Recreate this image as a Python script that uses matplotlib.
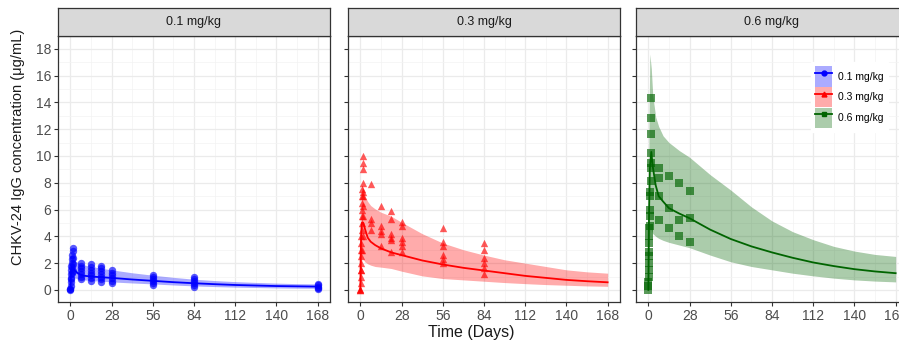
import matplotlib
matplotlib.use("Agg")
import matplotlib.pyplot as plt
from matplotlib.patches import Patch
from matplotlib.lines import Line2D
from matplotlib.legend_handler import HandlerTuple
import numpy as np

plt.rcParams['font.family'] = ['Liberation Sans', 'DejaVu Sans']

doses = ["0.1 mg/kg", "0.3 mg/kg", "0.6 mg/kg"]
line_colors = ["#0000FF", "#FF0000", "#006400"]
markers = ["o", "^", "s"]

# simulated median and 90% interval (days, ug/mL)
sim_t = [0, 0.25, 0.5, 1, 2, 3, 5, 7, 10, 14, 21, 28, 42, 56, 70, 84, 98, 112, 126, 140, 154, 168]

med_01 = [0, 0.9, 1.4, 1.7, 1.6, 1.45, 1.25, 1.12, 1.05, 1.0, 0.95, 0.9, 0.78, 0.68, 0.58, 0.5, 0.43, 0.37, 0.33, 0.29, 0.27, 0.25]
lo_01 = [0, 0.5, 0.8, 1.0, 0.95, 0.9, 0.82, 0.78, 0.74, 0.7, 0.65, 0.6, 0.52, 0.45, 0.37, 0.3, 0.25, 0.21, 0.18, 0.15, 0.13, 0.12]
hi_01 = [0, 1.4, 2.0, 2.4, 2.35, 2.2, 2.05, 1.95, 1.85, 1.75, 1.62, 1.5, 1.28, 1.1, 0.94, 0.8, 0.7, 0.62, 0.56, 0.51, 0.47, 0.45]

med_03 = [0, 2.5, 4.0, 5.0, 5.0, 4.6, 3.9, 3.6, 3.35, 3.1, 2.8, 2.6, 2.2, 1.9, 1.65, 1.45, 1.25, 1.05, 0.9, 0.75, 0.65, 0.57]
lo_03 = [0, 1.0, 1.8, 2.4, 2.3, 2.1, 1.95, 1.85, 1.75, 1.7, 1.6, 1.4, 1.05, 0.85, 0.75, 0.65, 0.55, 0.47, 0.4, 0.35, 0.3, 0.27]
hi_03 = [0, 4.5, 6.5, 7.8, 7.6, 7.0, 6.6, 6.3, 6.05, 5.8, 5.5, 5.05, 4.2, 3.5, 3.0, 2.6, 2.25, 2.0, 1.75, 1.5, 1.35, 1.25]

med_06 = [0, 3.5, 6.0, 9.0, 10.3, 9.2, 7.8, 7.0, 6.6, 6.1, 5.7, 5.35, 4.5, 3.8, 3.25, 2.8, 2.4, 2.05, 1.78, 1.55, 1.38, 1.25]
lo_06 = [0, 1.5, 3.0, 4.5, 4.5, 4.2, 4.0, 3.85, 3.7, 3.55, 3.35, 3.15, 2.6, 2.1, 1.75, 1.5, 1.25, 1.05, 0.88, 0.75, 0.66, 0.6]
hi_06 = [0, 8.0, 13.0, 17.6, 16.5, 14.5, 12.9, 12.2, 11.5, 11.0, 10.4, 9.9, 8.6, 7.45, 6.2, 5.15, 4.35, 3.75, 3.25, 2.9, 2.65, 2.5]

# observed concentrations
obs_t_01 = [0, 0, 0, 0.17, 0.17, 0.17, 0.5, 0.5, 0.5, 0.5, 1, 1, 1, 1, 1, 2, 2, 2, 2, 2,
            7, 7, 7, 7, 7, 7, 7, 14, 14, 14, 14, 14, 14, 14, 21, 21, 21, 21, 21, 21, 21,
            28, 28, 28, 28, 28, 28, 56, 56, 56, 56, 56, 56, 84, 84, 84, 84, 84, 84,
            168, 168, 168, 168, 168]
obs_c_01 = [0, 0.05, 0.1, 0.3, 0.6, 0.9, 0.8, 1.2, 1.5, 1.8, 1.3, 1.7, 2.0, 2.3, 2.6, 1.4, 1.9, 2.4, 3.1, 2.9,
            0.8, 1.0, 1.2, 1.4, 1.6, 1.8, 2.0, 0.7, 0.9, 1.1, 1.3, 1.5, 1.7, 1.9, 0.6, 0.8, 1.0, 1.2, 1.4, 1.6, 1.8,
            0.5, 0.7, 0.9, 1.1, 1.3, 1.5, 0.4, 0.55, 0.7, 0.85, 1.0, 1.15, 0.2, 0.35, 0.5, 0.65, 0.8, 0.95,
            0.05, 0.15, 0.25, 0.35, 0.45]

obs_t_03 = [0, 0, 0, 0.17, 0.17, 0.17, 0.17, 0.5, 0.5, 0.5, 0.5, 0.5,
            1, 1, 1, 1, 1, 1, 1, 1, 2, 2, 2, 2, 2, 2, 2, 2, 2,
            7, 7, 7, 7, 14, 14, 14, 14, 14, 21, 21, 21, 21, 21, 21,
            28, 28, 28, 28, 28, 28, 56, 56, 56, 56, 56, 56, 84, 84, 84, 84, 84, 84]
obs_c_03 = [0, 0, 0.1, 0.5, 1.0, 1.5, 2.0, 1.5, 2.5, 3.0, 3.5, 4.0,
            3.0, 4.5, 5.0, 5.5, 6.0, 6.5, 7.0, 7.5, 4.0, 5.5, 6.3, 7.0, 7.3, 8.0, 9.0, 10.0, 9.5,
            4.5, 5.0, 5.3, 7.9, 3.3, 4.2, 4.4, 4.8, 6.3, 2.8, 3.7, 3.9, 4.2, 5.3, 5.9,
            2.8, 3.3, 3.6, 3.9, 4.8, 5.1, 2.0, 2.3, 2.6, 3.3, 3.6, 4.6, 1.2, 1.6, 2.0, 2.4, 3.0, 3.5]

obs_t_06 = [0, 0, 0, 0.17, 0.17, 0.17, 0.17, 0.5, 0.5, 0.5, 0.5, 1, 1, 1, 1, 1,
            2, 2, 2, 2, 2, 2, 2, 7, 7, 7, 7, 14, 14, 14, 21, 21, 21, 28, 28, 28]
obs_c_06 = [0, 0.3, 0.6, 1.0, 1.5, 2.0, 2.5, 2.8, 3.5, 4.0, 4.6, 4.8, 5.5, 6.0, 7.0, 7.3,
            8.1, 9.1, 9.5, 10.2, 11.6, 12.8, 14.3, 5.2, 7.0, 8.35, 9.1, 4.6, 6.1, 8.5,
            4.0, 5.2, 8.0, 3.6, 5.4, 7.4]

meds = [med_01, med_03, med_06]
los = [lo_01, lo_03, lo_06]
his = [hi_01, hi_03, hi_06]
obs_t = [obs_t_01, obs_t_03, obs_t_06]
obs_c = [obs_c_01, obs_c_03, obs_c_06]

x_ticks = [0, 28, 56, 84, 112, 140, 168]
y_ticks = [0, 2, 4, 6, 8, 10, 12, 14, 16, 18]

W, H = 899, 347
fig = plt.figure(figsize=(W / 100, H / 100), dpi=100)

lefts = [58, 348, 636]
pw = 272
ptop, pbot, stop = 36, 302, 8

for i in range(3):
    ax = fig.add_axes([lefts[i] / W, 1 - pbot / H, pw / W, (pbot - ptop) / H])
    c = line_colors[i]
    ax.fill_between(sim_t, los[i], his[i], color=c, alpha=0.33, lw=0, zorder=2)
    ax.plot(sim_t, meds[i], color=c, lw=1.3, zorder=4)
    ax.scatter(obs_t[i], obs_c[i], marker=markers[i], s=28, color=c, alpha=0.65,
               lw=0, zorder=3)
    ax.set_xlim(-8.4, 176.4)
    ax.set_ylim(-0.9, 18.95)
    ax.set_xticks(x_ticks)
    ax.set_xticks([14, 42, 70, 98, 126, 154], minor=True)
    ax.set_yticks(y_ticks)
    ax.set_yticks(np.arange(1, 19, 2), minor=True)
    ax.grid(which="major", color="#EBEBEB", lw=0.9, zorder=0)
    ax.grid(which="minor", color="#F3F3F3", lw=0.5, zorder=0)
    ax.set_axisbelow(True)
    ax.tick_params(which="major", length=3, width=0.8, color="#333333",
                   labelcolor="#4D4D4D", labelsize=10, pad=2)
    ax.tick_params(which="minor", length=0)
    if i > 0:
        ax.set_yticklabels([])
    for sp in ax.spines.values():
        sp.set_color("#333333")
        sp.set_linewidth(0.9)

    sax = fig.add_axes([lefts[i] / W, 1 - ptop / H, pw / W, (ptop - stop) / H])
    sax.set_facecolor("#D9D9D9")
    sax.set_xticks([])
    sax.set_yticks([])
    for sp in sax.spines.values():
        sp.set_color("#333333")
        sp.set_linewidth(0.9)
    sax.text(0.5, 0.5, doses[i], transform=sax.transAxes, ha="center", va="center",
             fontsize=9, color="#1A1A1A")

fig.text(18 / W, 1 - 147 / H, "CHKV-24 IgG concentration (\u03bcg/mL)", rotation=90,
         ha="center", va="center", fontsize=10.5, color="#1A1A1A")
fig.text(471 / W, 1 - 332 / H, "Time (Days)", ha="center", va="center",
         fontsize=11.5, color="#1A1A1A")

handles = []
for i in range(3):
    c = line_colors[i]
    handles.append((Patch(facecolor=c, alpha=0.33, lw=0),
                    Line2D([], [], color=c, lw=1.3, marker=markers[i], markersize=3.5)))
leg = fig.legend(handles, doses, handler_map={tuple: HandlerTuple(ndivide=1, pad=0)},
                 loc="upper left", bbox_to_anchor=(806 / W, 1 - 57 / H),
                 frameon=True, facecolor="white", edgecolor="white", framealpha=1,
                 fancybox=False, prop={'size': 7.5}, handlelength=1.6,
                 handleheight=2.6, labelspacing=0.05, handletextpad=0.6,
                 borderpad=0.4)

fig.savefig("out.png", dpi=100, facecolor="white")
